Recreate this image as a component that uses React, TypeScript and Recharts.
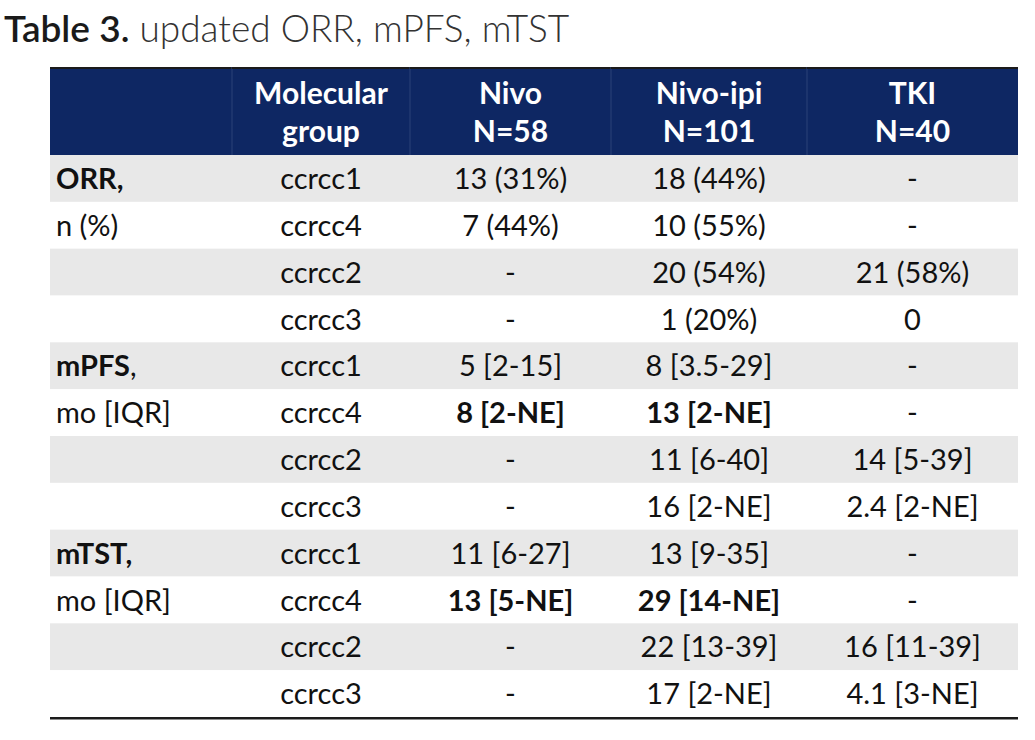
import { Bar, ComposedChart, XAxis, YAxis } from 'recharts';

const FONT = 'Lato, "Open Sans", sans-serif';
const NAVY = '#0E2763';
const NAVY_LINE = '#2A4279';
const GREY = '#E8E8E8';
const INK = '#111111';

const headerTop = ['', 'Molecular', 'Nivo', 'Nivo-ipi', 'TKI'];
const headerBottom = ['', 'group', 'N=58', 'N=101', 'N=40'];

const labelBold = ['ORR,', '', '', '', 'mPFS', '', '', '', 'mTST,', '', '', ''];
const labelRest = ['', 'n (%)', '', '', ',', 'mo [IQR]', '', '', '', 'mo [IQR]', '', ''];
const molecularGroups = ['ccrcc1', 'ccrcc4', 'ccrcc2', 'ccrcc3', 'ccrcc1', 'ccrcc4', 'ccrcc2', 'ccrcc3', 'ccrcc1', 'ccrcc4', 'ccrcc2', 'ccrcc3'];
const nivo = ['13 (31%)', '7 (44%)', '-', '-', '5 [2-15]', '8 [2-NE]', '-', '-', '11 [6-27]', '13 [5-NE]', '-', '-'];
const nivoIpi = ['18 (44%)', '10 (55%)', '20 (54%)', '1 (20%)', '8 [3.5-29]', '13 [2-NE]', '11 [6-40]', '16 [2-NE]', '13 [9-35]', '29 [14-NE]', '22 [13-39]', '17 [2-NE]'];
const tki = ['-', '-', '21 (58%)', '0', '-', '-', '14 [5-39]', '2.4 [2-NE]', '-', '-', '16 [11-39]', '4.1 [3-NE]'];
const boldCells = ['5:nivo', '5:nivoIpi', '9:nivo', '9:nivoIpi'];

// column widths in px (layout only)
const COL_WIDTHS = [182, 178, 201, 196, 211];
const COL_KEYS = ['label', 'group', 'nivo', 'nivoIpi', 'tki'];
const TOTAL = COL_WIDTHS.reduce((a, b) => a + b, 0);
const widthFields = Object.fromEntries(COL_WIDTHS.map((w, i) => [`c${i}`, w]));

const bodyRows = molecularGroups.map((g, i) => ({
	key: `r${i}`,
	row: i,
	labelBold: labelBold[i],
	labelRest: labelRest[i],
	group: g,
	nivo: nivo[i],
	nivoIpi: nivoIpi[i],
	tki: tki[i],
	...widthFields,
}));

const headerRows = [{ key: 'head', ...widthFields }];

const headerShape = (col: number) => (props: any) => {
	const { x, y, width, height } = props;
	const cx = x + width / 2;
	return (
		<g>
			<rect x={x} y={y} width={width} height={height} fill={NAVY} />
			{col > 0 && <line x1={x} x2={x} y1={y} y2={y + height} stroke={NAVY_LINE} strokeWidth={1} />}
			<line x1={x} x2={x + width} y1={y + 1} y2={y + 1} stroke="#1B1B1B" strokeWidth={2} />
			<text x={cx} y={y + 37} textAnchor="middle" fill="#fff" fontFamily={FONT} fontWeight={700} fontSize={30}>
				{headerTop[col]}
			</text>
			<text x={cx} y={y + 75} textAnchor="middle" fill="#fff" fontFamily={FONT} fontWeight={700} fontSize={30}>
				{headerBottom[col]}
			</text>
		</g>
	);
};

const bodyShape = (col: number) => (props: any) => {
	const { x, y, width, height, payload } = props;
	const r = payload.row;
	const shaded = r % 2 === 0;
	const baseY = y + 34;
	const key = COL_KEYS[col];
	let content;
	if (col === 0) {
		content = (
			<text x={x + 6} y={baseY} fill={INK} fontFamily={FONT} fontSize={29}>
				<tspan fontWeight={700}>{payload.labelBold}</tspan>
				<tspan>{payload.labelRest}</tspan>
			</text>
		);
	} else {
		const bold = boldCells.includes(`${r}:${key}`);
		content = (
			<text x={x + width / 2} y={baseY} textAnchor="middle" fill={INK} fontFamily={FONT} fontSize={29} fontWeight={bold ? 700 : 400}>
				{payload[key]}
			</text>
		);
	}
	return (
		<g>
			<rect x={x} y={y} width={width} height={height} fill={shaded ? GREY : '#fff'} />
			{content}
			{r === bodyRows.length - 1 && (
				<line x1={x} x2={x + width} y1={y + height + 1} y2={y + height + 1} stroke="#1B1B1B" strokeWidth={2.5} />
			)}
		</g>
	);
};

const MARGIN = { top: 0, right: 17, bottom: 0, left: 50 };

export default function App() {
	return (
		<div style={{ position: 'absolute', left: 0, top: 0, width: 1035, height: 740, background: '#fff' }}>
			<div
				style={{
					position: 'absolute',
					left: 4,
					top: 6,
					fontFamily: FONT,
					fontSize: 37,
					color: '#1a1a1a',
					whiteSpace: 'nowrap',
					lineHeight: '44px',
				}}
			>
				<span style={{ fontWeight: 600 }}>Table 3.</span>
				<span style={{ fontWeight: 300, color: '#333' }}> updated ORR, mPFS, mTST</span>
			</div>
			<div style={{ position: 'absolute', left: 0, top: 67 }}>
				<ComposedChart width={1035} height={88} data={headerRows} layout="vertical" margin={MARGIN} barCategoryGap={0}>
					<XAxis type="number" domain={[0, TOTAL]} hide />
					<YAxis type="category" dataKey="key" hide />
					{COL_WIDTHS.map((_, i) => (
						<Bar key={i} dataKey={`c${i}`} stackId="row" isAnimationActive={false} shape={headerShape(i)} />
					))}
				</ComposedChart>
			</div>
			<div style={{ position: 'absolute', left: 0, top: 155 }}>
				<ComposedChart
					width={1035}
					height={566}
					data={bodyRows}
					layout="vertical"
					margin={{ ...MARGIN, bottom: 4 }}
					barCategoryGap={0}
				>
					<XAxis type="number" domain={[0, TOTAL]} hide />
					<YAxis type="category" dataKey="key" hide />
					{COL_WIDTHS.map((_, i) => (
						<Bar key={i} dataKey={`c${i}`} stackId="row" isAnimationActive={false} shape={bodyShape(i)} />
					))}
				</ComposedChart>
			</div>
		</div>
	);
}
